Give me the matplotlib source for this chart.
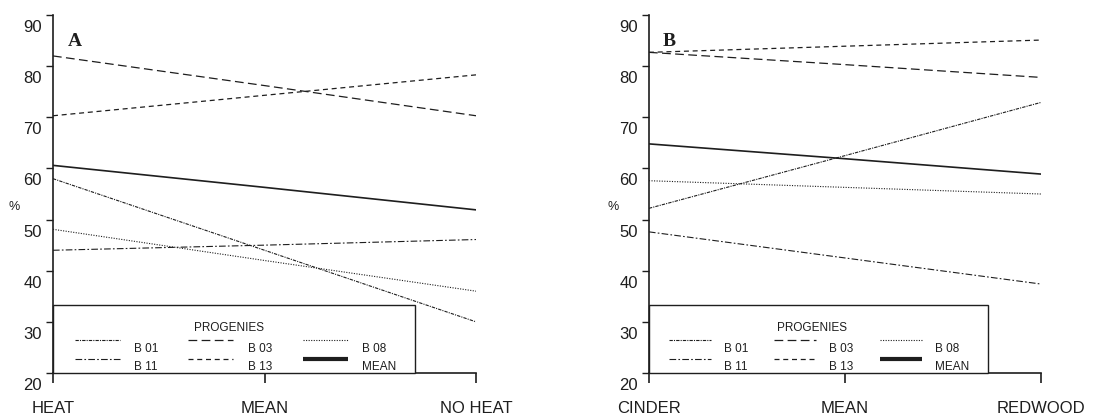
import matplotlib
matplotlib.use("Agg")
import matplotlib.pyplot as plt
from matplotlib.patches import Rectangle
from matplotlib.transforms import ScaledTranslation

# ---- data ----
series_names = ["B 01", "B 03", "B 08", "B 11", "B 13", "MEAN"]
heat_labels = ["HEAT", "MEAN", "NO HEAT"]
soil_labels = ["CINDER", "MEAN", "REDWOOD"]

heat_b01 = [58.0, 44.0, 30.0]
heat_b03 = [82.0, 76.2, 70.3]
heat_b08 = [48.1, 42.0, 36.0]
heat_b11 = [44.0, 45.0, 46.1]
heat_b13 = [70.3, 74.3, 78.3]
heat_mean = [60.6, 56.3, 51.9]

soil_b01 = [52.2, 62.5, 72.9]
soil_b03 = [82.7, 80.3, 77.8]
soil_b08 = [57.6, 56.3, 55.0]
soil_b11 = [47.6, 42.5, 37.4]
soil_b13 = [82.7, 83.9, 85.1]
soil_mean = [64.8, 61.9, 58.9]

y_ticks = [20, 30, 40, 50, 60, 70, 80, 90]

# ---- styles ----
INK = "#1e1e1e"
styles = {
    "B 01": dict(ls=(0, (3, 1, 1, 1)), lw=0.8),
    "B 03": dict(ls=(0, (7, 3.5)), lw=0.9),
    "B 08": dict(ls=(0, (1, 1.3)), lw=0.8),
    "B 11": dict(ls=(0, (6, 2, 1.5, 2)), lw=0.8),
    "B 13": dict(ls=(0, (4, 3)), lw=0.9),
    "MEAN": dict(ls="-", lw=1.2),
}

fig = plt.figure(figsize=(11.15, 4.17), dpi=100)
fig.patch.set_facecolor("white")

def panel(rect, xlabels, data, letter, box_right):
    ax = fig.add_axes(rect)
    x = list(range(len(xlabels)))
    for name, vals in zip(series_names, data):
        ax.plot(x, vals, color=INK, linestyle=styles[name]["ls"],
                linewidth=styles[name]["lw"], zorder=2)
    ax.set_xlim(0, 2)
    ax.set_ylim(20, 90)
    ax.set_xticks(x)
    ax.set_xticklabels(xlabels, fontfamily="Liberation Sans", fontsize=12)
    ax.set_yticks(y_ticks)
    ax.set_yticklabels([str(v) for v in y_ticks], fontfamily="Liberation Sans",
                       fontsize=12, va="top")
    ax.tick_params(axis="x", direction="out", length=7, width=1.2, pad=13, colors=INK)
    ax.tick_params(axis="y", direction="out", length=5, width=1.0, pad=3, colors=INK)
    off = ScaledTranslation(0, -5 / 100, fig.dpi_scale_trans)
    for lab in ax.get_yticklabels():
        lab.set_transform(lab.get_transform() + off)
    for s in ["top", "right"]:
        ax.spines[s].set_visible(False)
    for s in ["left", "bottom"]:
        ax.spines[s].set_color(INK)
        ax.spines[s].set_linewidth(1.2)
    ax.text(0.052, 0.925, letter, transform=ax.transAxes, fontfamily="Liberation Serif",
            fontweight="bold", fontsize=14, color=INK, va="center", ha="center")
    ax.text(-0.092, 0.465, "%", transform=ax.transAxes, fontfamily="Liberation Sans",
            fontsize=9, color=INK, va="center", ha="center")

    # legend box
    ax.add_patch(Rectangle((0, 0), box_right, 0.19, transform=ax.transAxes,
                           facecolor="white", edgecolor=INK, linewidth=1.0,
                           zorder=3, clip_on=False))
    ax.text(0.416, 0.126, "PROGENIES", transform=ax.transAxes, fontfamily="Liberation Sans",
            fontsize=8.5, color=INK, ha="center", va="center", zorder=4)
    order = ["B 01", "B 11", "B 03", "B 13", "B 08", "MEAN"]
    col_x = [(0.052, 0.158, 0.192), (0.319, 0.426, 0.460), (0.590, 0.697, 0.731)]
    row_y = [(0.092, 0.068), (0.040, 0.018)]
    for i, name in enumerate(order):
        c, r = divmod(i, 2)
        x0, x1, xl = col_x[c]
        yl, yt = row_y[r]
        lw = 3.0 if name == "MEAN" else styles[name]["lw"]
        ax.plot([x0, x1], [yl, yl], transform=ax.transAxes, color=INK,
                linestyle=styles[name]["ls"], linewidth=lw, zorder=4,
                solid_capstyle="butt")
        ax.text(xl, yt, name, transform=ax.transAxes, fontfamily="Liberation Sans",
                fontsize=8.5, color=INK, ha="left", va="center", zorder=4)
    return ax

panel([0.0475, 0.1055, 0.3795, 0.8585], heat_labels,
      [heat_b01, heat_b03, heat_b08, heat_b11, heat_b13, heat_mean], "A", 0.856)
panel([0.582, 0.1055, 0.3515, 0.8585], soil_labels,
      [soil_b01, soil_b03, soil_b08, soil_b11, soil_b13, soil_mean], "B", 0.865)

fig.savefig("out.png", dpi=100, facecolor="white")
